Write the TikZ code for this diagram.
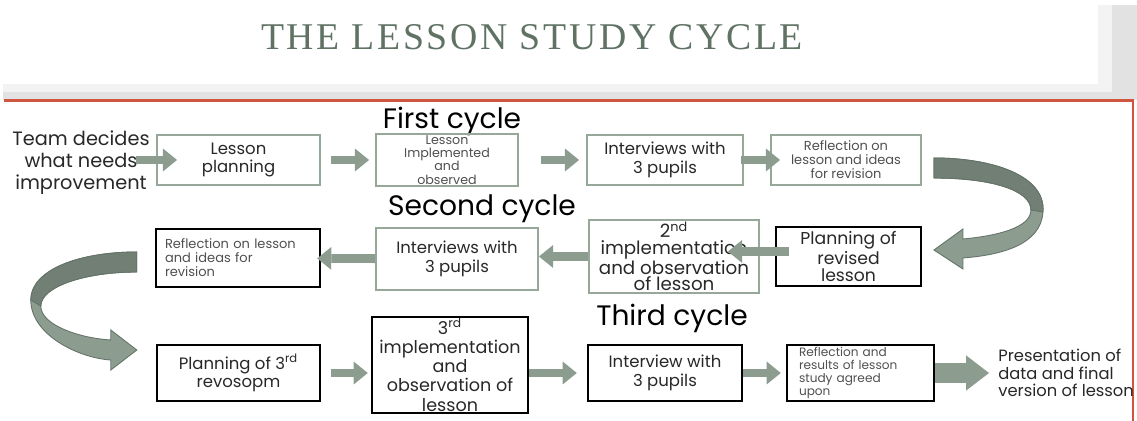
\documentclass[tikz,border=0pt]{standalone}
\usepackage{fontspec}
\setsansfont{Poppins}
\newfontfamily\titlefont[LetterSpace=7]{Liberation Serif}
\renewcommand{\familydefault}{\sfdefault}
\usepackage{tikz}
\usetikzlibrary{arrows.meta,positioning}
\definecolor{titlegreen}{RGB}{95,114,100}
\definecolor{boxgray}{RGB}{150,168,154}
\definecolor{arrowfill}{RGB}{140,157,144}
\definecolor{arrowedge}{RGB}{100,115,105}
\definecolor{curvedark}{RGB}{113,127,117}
\definecolor{slidered}{RGB}{208,85,62}
\definecolor{bandgray}{RGB}{226,226,226}
\definecolor{bandlight}{RGB}{243,243,243}
\definecolor{ink}{RGB}{40,40,40}
\definecolor{inklight}{RGB}{80,80,80}

\begin{document}
\begin{tikzpicture}[x=0.02cm, y=-0.02cm,
    box/.style={draw=boxgray, line width=1.1pt, align=center, inner sep=1pt, text=ink, font=\fontsize{9.4}{10.6}\selectfont},
    blackbox/.style={box, draw=black, line width=1.4pt},
    small/.style={font=\fontsize{7.4}{8}\selectfont, text=inklight},
    cyclelabel/.style={font=\fontsize{16}{18}\selectfont, text=black},
    flow/.style={draw=arrowfill, line width=5pt, -{Triangle[length=8pt,width=13pt,line width=0pt]}},
    bigflow/.style={draw=arrowfill, line width=11pt, -{Triangle[length=13pt,width=20pt,line width=0pt]}},
    curvearrow/.style={fill=arrowfill, draw=arrowedge, line width=0.5pt},
    curvedarkpart/.style={fill=curvedark, draw=arrowedge, line width=0.5pt}
]
\useasboundingbox (0,0) rectangle (1137,421);
\fill[white] (0,0) rectangle (1137,421);

% slide frame
\fill[bandlight] (3,84) rectangle (1112,92);
\fill[bandlight] (1098,5) rectangle (1112,92);
\fill[bandgray] (3,92) rectangle (1137,100);
\fill[bandgray] (1112,5) rectangle (1137,100);
\draw[slidered, line width=1.3pt] (4,100.5) -- (1133,100.5) -- (1133,421);

\node[font=\titlefont\fontsize{21.5}{24}\selectfont, text=titlegreen] (title) at (532,37) {THE LESSON STUDY CYCLE};

% first cycle
\node[cyclelabel] (lab1) at (452,121) {First cycle};
\node[align=center, minimum width=3.1cm, inner sep=0pt, text=ink, font=\fontsize{11}{12.6}\selectfont] (team) at (81,163) {Team decides\\what needs\\improvement};
\node[box, minimum width=3.26cm, minimum height=1cm] (plan1) at (238.5,160) {Lesson\\planning};
\node[box, small, minimum width=2.84cm, minimum height=1cm, font=\fontsize{7.2}{7.5}\selectfont] (impl1) at (447,160) {Lesson\\Implemented\\and\\observed};
\node[box, minimum width=3.12cm, minimum height=1cm] (intv1) at (665,160) {Interviews with\\3 pupils};
\node[box, small, minimum width=3cm, minimum height=1cm] (refl1) at (846,160) {Reflection on\\lesson and ideas\\for revision};

% second cycle
\node[cyclelabel] (lab2) at (482,209) {Second cycle};
\node[blackbox, minimum width=2.9cm, minimum height=1.18cm, font=\fontsize{9.8}{9.8}\selectfont] (plan2) at (848.5,256.5) {Planning of\\revised\\lesson};
\node[box, minimum width=3.4cm, minimum height=1.18cm, font=\fontsize{10.4}{9.3}\selectfont] (impl2) at (674,256.5) {2\textsuperscript{nd}\\implementation\\and observation\\of lesson};
\node[box, minimum width=3.24cm, minimum height=1.24cm] (intv2) at (457,259) {Interviews with\\3 pupils};
\node[blackbox, small, align=left, inner xsep=0.18cm, text width=2.92cm, minimum height=1.16cm] (refl2) at (238,258) {Reflection on lesson\\and ideas for\\revision};

% third cycle
\node[cyclelabel] (lab3) at (672,318) {Third cycle};
\node[blackbox, minimum width=3.26cm, minimum height=1.12cm] (plan3) at (238.5,373) {Planning of 3\textsuperscript{rd}\\revosopm};
\node[blackbox, minimum width=3.12cm, minimum height=1.88cm, font=\fontsize{10}{11}\selectfont] (impl3) at (450,365) {3\textsuperscript{rd}\\implementation\\and\\observation of\\lesson};
\node[blackbox, minimum width=3.08cm, minimum height=1.12cm] (intv3) at (665,373) {Interview with\\3 pupils};
\node[blackbox, small, align=left, inner xsep=0.24cm, inner ysep=0pt, text width=2.46cm, minimum height=1.12cm, font=\fontsize{6.9}{7.4}\selectfont] (refl3) at (860.5,373) {Reflection and\\results of lesson\\study agreed\\upon};
\node[anchor=west, align=left, inner sep=0pt, text=ink, font=\fontsize{9.3}{10}\selectfont] (pres) at (998,373) {Presentation of\\data and final\\version of lesson};

% straight arrows
\draw[flow, shorten <=1.1cm, shorten >=-0.42cm] (team.center |- plan1.west) -- (plan1.west);
\draw[flow, shorten <=0.2cm, shorten >=0.12cm] (plan1) -- (impl1);
\draw[flow, shorten <=0.44cm, shorten >=0.14cm] (impl1) -- (intv1);
\draw[flow, shorten <=-0.06cm, shorten >=-0.2cm] (intv1) -- (refl1);
\draw[flow, shorten <=-0.28cm, shorten >=-0.64cm] ([yshift=0.1cm]plan2.west) -- ([yshift=0.1cm]impl2.east);
\draw[flow] (impl2) -- (intv2.east |- impl2.west);
\draw[flow, shorten >=-0.08cm] (intv2) -- (refl2);
\draw[flow, shorten <=0.2cm, shorten >=0.06cm] (plan3.east) -- (impl3.west |- plan3.east);
\draw[flow, shorten >=0.2cm] (impl3.east |- intv3.west) -- (intv3.west);
\draw[flow, shorten >=0.1cm] (intv3) -- (refl3);
\draw[bigflow, shorten >=0.18cm] (refl3) -- (pres.west);

% curved arrow down the right side
\begin{scope}[shift={(refl1.east)}]
  \filldraw[curvearrow] (12,-2) .. controls (69,-2) and (124,15) .. (121,52)
     .. controls (119,85) and (79,95) .. (41,98) -- (41,109) -- (12,90) -- (41,69) -- (41,79)
     .. controls (74,76) and (109,68) .. (109,50)
     .. controls (109,30) and (69,18) .. (12,18) -- cycle;
  \filldraw[curvedarkpart] (12,-2) .. controls (69,-2) and (124,15) .. (121,52)
     -- (109,50) .. controls (109,30) and (69,18) .. (12,18) -- cycle;
\end{scope}

% curved arrow down the left side
\begin{scope}[shift={(refl2.west)}]
  \filldraw[curvearrow] (-18,-6) .. controls (-76,-6) and (-124,12) .. (-124,42)
     .. controls (-124,77) and (-76,100) .. (-44,102) -- (-44,112) -- (-18,92) -- (-44,72) -- (-44,82)
     .. controls (-76,80) and (-114,67) .. (-114,48)
     .. controls (-114,29) and (-71,14) .. (-18,14) -- cycle;
  \filldraw[curvedarkpart] (-18,-6) .. controls (-76,-6) and (-124,12) .. (-124,42)
     -- (-114,48) .. controls (-114,29) and (-71,14) .. (-18,14) -- cycle;
\end{scope}
\end{tikzpicture}
\end{document}
